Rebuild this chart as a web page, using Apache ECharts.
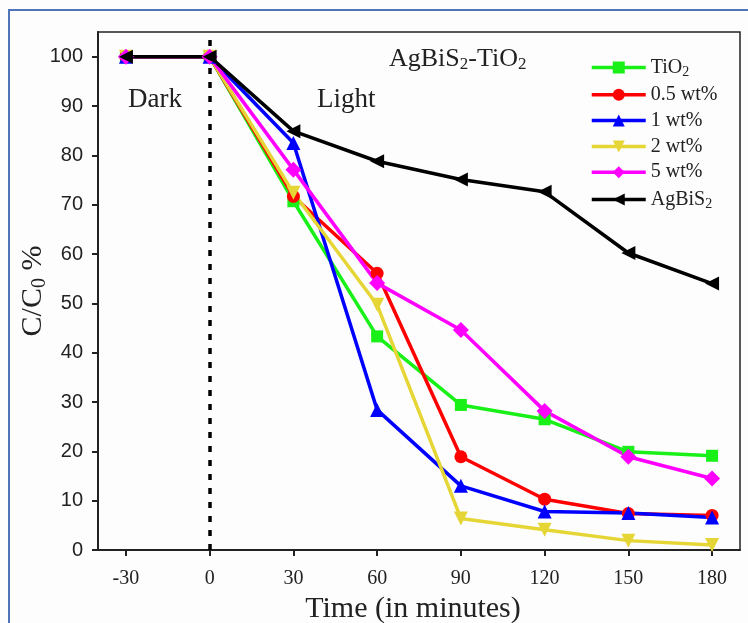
<!DOCTYPE html>
<html>
<head>
<meta charset="utf-8">
<script src="https://cdn.jsdelivr.net/npm/echarts@6/dist/echarts.min.js"></script>
<style>
  html, body { margin: 0; padding: 0; background: #fdfdfd; }
  #chart { width: 748px; height: 623px; }
</style>
</head>
<body>
<div id="chart"></div>
<script>
// time in minutes
const times = [-30, 0, 30, 60, 90, 120, 150, 180];
const xTicks = [-30, 0, 30, 60, 90, 120, 150, 180];
const yTicks = [0, 10, 20, 30, 40, 50, 60, 70, 80, 90, 100];

// C/C0 %
const tio2 = [100, 100, 70.7, 43.3, 29.4, 26.5, 19.9, 19.1];
const wt05 = [100, 100, 71.7, 56.1, 18.9, 10.3, 7.4, 7.0];
const wt1 = [100, 100, 82.5, 28.4, 13.0, 7.8, 7.5, 6.6];
const wt2 = [100, 100, 72.4, 49.7, 6.4, 4.1, 1.9, 1.0];
const wt5 = [100, 100, 77.1, 54.1, 44.6, 28.2, 18.9, 14.5];
const agbis2 = [100, 100, 84.9, 78.8, 75.1, 72.6, 60.2, 54.0];

const serif = '"Liberation Serif", "Times New Roman", serif';
const sans = '"Liberation Sans", Arial, sans-serif';

const legendText = {
  'TiO2': '{t|TiO}{s|2}',
  '0.5 wt%': '{t|0.5 wt%}',
  '1 wt%': '{t|1 wt%}',
  '2 wt%': '{t|2 wt%}',
  '5 wt%': '{t|5 wt%}',
  'AgBiS2': '{t|AgBiS}{s|2}'
};

function pairs(vals) {
  return vals.map((v, i) => [times[i], v]);
}

function mkSeries(name, vals, color, symbol, size, rotate) {
  return {
    name: name,
    type: 'line',
    data: pairs(vals),
    symbol: symbol,
    symbolSize: size,
    symbolRotate: rotate || 0,
    lineStyle: { color: color, width: 3.5 },
    itemStyle: { color: color },
    emphasis: { disabled: true }
  };
}

let series = [
  mkSeries('TiO2', tio2, '#18f018', 'rect', 12),
  mkSeries('0.5 wt%', wt05, '#ff0000', 'circle', 13),
  mkSeries('1 wt%', wt1, '#0000ff', 'triangle', 14),
  mkSeries('2 wt%', wt2, '#e5d636', 'triangle', 14, 180),
  mkSeries('5 wt%', wt5, '#ff00ff', 'diamond', 16),
  mkSeries('AgBiS2', agbis2, '#000000', 'triangle', 14, 90)
];

// dotted dark/light separator
series[0].markLine = {
  silent: true,
  symbol: 'none',
  label: { show: false },
  lineStyle: { color: '#000', type: [6, 8], width: 3.5 },
  data: [{ xAxis: 0 }]
};

const chart = echarts.init(document.getElementById('chart'));

chart.setOption({
  backgroundColor: '#fdfdfd',
  animation: false,
  grid: {
    left: 98, top: 32, right: 8, bottom: 73,
    outerBoundsMode: 'none',
    show: true, borderColor: '#222', borderWidth: 1.5
  },
  legend: {
    orient: 'vertical',
    left: 585, top: 51,
    itemWidth: 54, itemHeight: 15,
    itemGap: 5.8,
    lineStyle: { width: 3.5 },
    data: ['TiO2', '0.5 wt%', '1 wt%', '2 wt%', '5 wt%', 'AgBiS2'],
    formatter: function (name) { return legendText[name]; },
    textStyle: {
      rich: {
        t: { fontFamily: serif, fontSize: 20, color: '#222', lineHeight: 22 },
        s: { fontFamily: serif, fontSize: 14, color: '#222', lineHeight: 14, padding: [9, 0, 0, 0] }
      }
    }
  },
  xAxis: {
    type: 'value',
    min: -40, max: 190,
    name: 'Time (in minutes)',
    nameLocation: 'middle',
    nameGap: 42,
    nameTextStyle: { fontFamily: serif, fontSize: 30, color: '#222', padding: [0, 12, 0, 0] },
    splitLine: { show: false },
    axisLine: { onZero: false, lineStyle: { color: '#222', width: 2 } },
    axisTick: { customValues: xTicks, length: 6, lineStyle: { color: '#222', width: 2 } },
    axisLabel: { customValues: xTicks, fontFamily: serif, fontSize: 20, color: '#222', margin: 19 }
  },
  yAxis: {
    type: 'value',
    min: 0, max: 105,
    name: '{t|C/C}{s|0}{t| %}',
    nameLocation: 'middle',
    nameGap: 48,
    nameMoveOverlap: false,
    nameTextStyle: {
      rich: {
        t: { fontFamily: serif, fontSize: 30, color: '#222' },
        s: { fontFamily: serif, fontSize: 20, color: '#222', padding: [14, 0, 0, 0] }
      }
    },
    splitLine: { show: false },
    axisLine: { onZero: false, lineStyle: { color: '#222', width: 2 } },
    axisTick: { customValues: yTicks, length: 6, lineStyle: { color: '#222', width: 2 } },
    axisLabel: { customValues: yTicks, fontFamily: sans, fontSize: 20, color: '#222', margin: 15 }
  },
  graphic: [
    {
      type: 'rect',
      shape: { x: 9, y: 10, width: 800, height: 700 },
      style: { fill: 'none', stroke: '#4f74b8', lineWidth: 2 },
      silent: true
    },
    {
      type: 'text', left: 389, top: 46,
      style: {
        text: '{t|AgBiS}{s|2}{t|-TiO}{s|2}',
        rich: {
          t: { fontFamily: serif, fontSize: 26, fill: '#222' },
          s: { fontFamily: serif, fontSize: 17, fill: '#222', padding: [12, 0, 0, 0] }
        }
      }
    },
    {
      type: 'text', left: 128, top: 86,
      style: { text: 'Dark', font: '27px ' + serif, fill: '#222' }
    },
    {
      type: 'text', left: 317, top: 86,
      style: { text: 'Light', font: '27px ' + serif, fill: '#222' }
    }
  ],
  series: series
});
</script>
</body>
</html>
